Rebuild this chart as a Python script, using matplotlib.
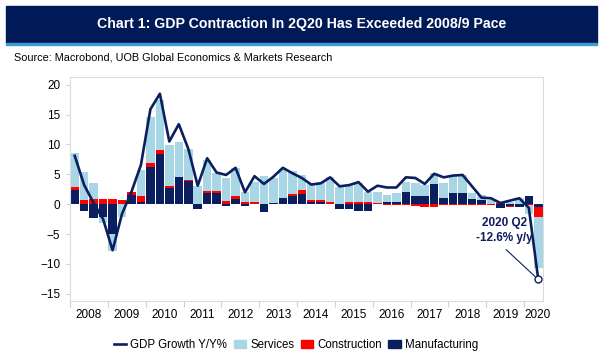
import numpy as np
import matplotlib
matplotlib.use('Agg')
import matplotlib.pyplot as plt
from matplotlib.patches import Rectangle, Patch
from matplotlib.lines import Line2D

plt.rcParams['font.family'] = ['Liberation Sans', 'DejaVu Sans']

# quarterly, 2008Q1 .. 2020Q2
years = [str(y) for y in range(2008, 2021)]

manufacturing = [2.4, -1.1, -2.35, -2.2, -5.0, 0.0, 1.55, 0.45, 6.3, 8.4,
                 2.7, 4.6, 3.9, -0.85, 1.85, 1.85, -0.3, 0.85, -0.3, 0.0,
                 -1.25, 0.25, 1.0, 1.4, 1.75, 0.45, 0.45, 0.0, -0.8, -0.8,
                 -1.1, -1.1, 0.0, 0.3, 0.3, 2.0, 1.45, 1.45, 3.35, 1.0,
                 1.85, 1.85, 0.8, 0.7, 0.05, -0.55, -0.3, -0.5, 1.3, -0.4]
construction = [0.45, 0.7, 0.95, 0.95, 0.95, 0.7, 0.55, 0.95, 0.6, 0.67,
                0.4, 0.0, 0.15, 0.0, 0.3, 0.4, 0.6, 0.6, 0.45, 0.35,
                0.0, 0.0, 0.1, 0.35, 0.55, 0.3, 0.3, 0.35, 0.0, 0.45,
                0.35, 0.35, 0.15, -0.1, -0.15, -0.2, -0.3, -0.5, -0.4, -0.2,
                -0.2, -0.15, -0.15, -0.15, -0.1, 0.15, -0.1, 0.1, -0.1, -1.7]
services = [5.65, 4.7, 2.55, -0.9, -2.8, -2.2, 0.0, 4.35, 7.65, 8.3,
            6.85, 5.9, 5.25, 3.1, 5.25, 2.95, 3.75, 4.55, 1.55, 3.45,
            4.75, 4.1, 4.75, 3.85, 2.6, 2.75, 3.05, 4.25, 2.85, 2.8,
            3.15, 1.75, 1.95, 1.25, 1.55, 1.7, 2.05, 1.8, 1.85, 2.5,
            2.9, 3.05, 1.0, 0.85, 0.6, 0.3, 0.45, 1.0, -1.6, -8.65]
gdp = [8.1, 3.2, 0.2, -2.5, -7.7, -1.6, 2.1, 6.6, 15.9, 18.5,
       10.5, 13.4, 9.3, 3.1, 7.7, 5.3, 4.9, 6.1, 2.0, 4.7,
       3.4, 4.6, 6.1, 5.2, 4.4, 3.3, 3.5, 4.5, 3.0, 3.2,
       3.7, 2.1, 3.1, 2.8, 2.8, 4.5, 4.4, 3.4, 5.1, 4.5,
       4.8, 4.9, 3.0, 1.1, 1.0, 0.2, 0.6, 1.0, -0.6, -12.6]

NAVY = '#0b1f5e'
LIGHT = '#a9d6e5'
RED = '#ff0000'

fig = plt.figure(figsize=(6, 3.6), dpi=100)

# title banner
fig.patches.append(Rectangle((6 / 600, 1 - 43 / 360), 591 / 600, 37 / 360,
                             transform=fig.transFigure, color='#001a57', zorder=0))
fig.patches.append(Rectangle((6 / 600, 1 - 45 / 360), 591 / 600, 2.5 / 360,
                             transform=fig.transFigure, color='#3a9bd5', zorder=0))
fig.text(0.502, 1 - 24 / 360, 'Chart 1: GDP Contraction In 2Q20 Has Exceeded 2008/9 Pace',
         color='white', fontsize=10.2, fontweight='bold', ha='center', va='center')
fig.text(14 / 600, 1 - 57 / 360, 'Source: Macrobond, UOB Global Economics & Markets Research',
         fontsize=7.8, ha='left', va='center')

ax = fig.add_axes([70 / 600, 1 - 301 / 360, 473 / 600, 224 / 360])

x = np.arange(len(gdp))
pos_base = np.zeros(len(gdp))
neg_base = np.zeros(len(gdp))
for vals, col in [(manufacturing, NAVY), (construction, RED), (services, LIGHT)]:
    v = np.array(vals)
    bottom = np.where(v >= 0, pos_base, neg_base)
    ax.bar(x, v, bottom=bottom, width=0.9, color=col, linewidth=0, zorder=2)
    pos_base = pos_base + np.where(v > 0, v, 0)
    neg_base = neg_base + np.where(v < 0, v, 0)

ax.plot(x, gdp, color=NAVY, linewidth=1.9, zorder=3)
ax.plot(x[-1], gdp[-1], 'o', ms=5, mfc='white', mec=NAVY, mew=1, zorder=4)

ax.text(45.4, -4.4, '2020 Q2\n-12.6% y/y', color=NAVY, fontsize=8.5, fontweight='bold',
        ha='center', va='center', linespacing=1.25, zorder=5)
ax.annotate('', xy=(x[-1], gdp[-1]), xytext=(45.6, -7.6),
            arrowprops=dict(arrowstyle='-', color=NAVY, lw=0.8, shrinkA=0, shrinkB=3))

ax.set_xlim(-0.5, len(gdp) - 0.5)
ax.set_ylim(-16.2, 21.3)
ax.set_yticks(range(-15, 21, 5))
ax.set_xticks(np.arange(-0.5, len(gdp), 4))
ax.set_xticklabels([])
centers = [1.5 + 4 * k for k in range(len(years) - 1)] + [48.9]
ax.set_xticks(centers, minor=True)
ax.set_xticklabels(years, minor=True)
ax.tick_params(axis='x', which='major', length=4, color='#d0d0d0')
ax.tick_params(axis='x', which='minor', length=0, pad=6, labelsize=8.5)
ax.tick_params(axis='y', length=3, color='#d0d0d0', labelsize=8.5, pad=4)
for s in ax.spines.values():
    s.set_color('#dcdcdc')
    s.set_linewidth(0.8)

handles = [Line2D([], [], color=NAVY, lw=1.9),
           Patch(color=LIGHT), Patch(color=RED), Patch(color=NAVY)]
labels = ['GDP Growth Y/Y%', 'Services', 'Construction', 'Manufacturing']
fig.legend(handles, labels, loc='center', bbox_to_anchor=(296 / 600, 1 - 345 / 360),
           ncol=4, frameon=False, fontsize=8.3, handlelength=1.1, handleheight=0.8,
           handletextpad=0.35, columnspacing=0.55)

fig.savefig('out.png', dpi=100)
